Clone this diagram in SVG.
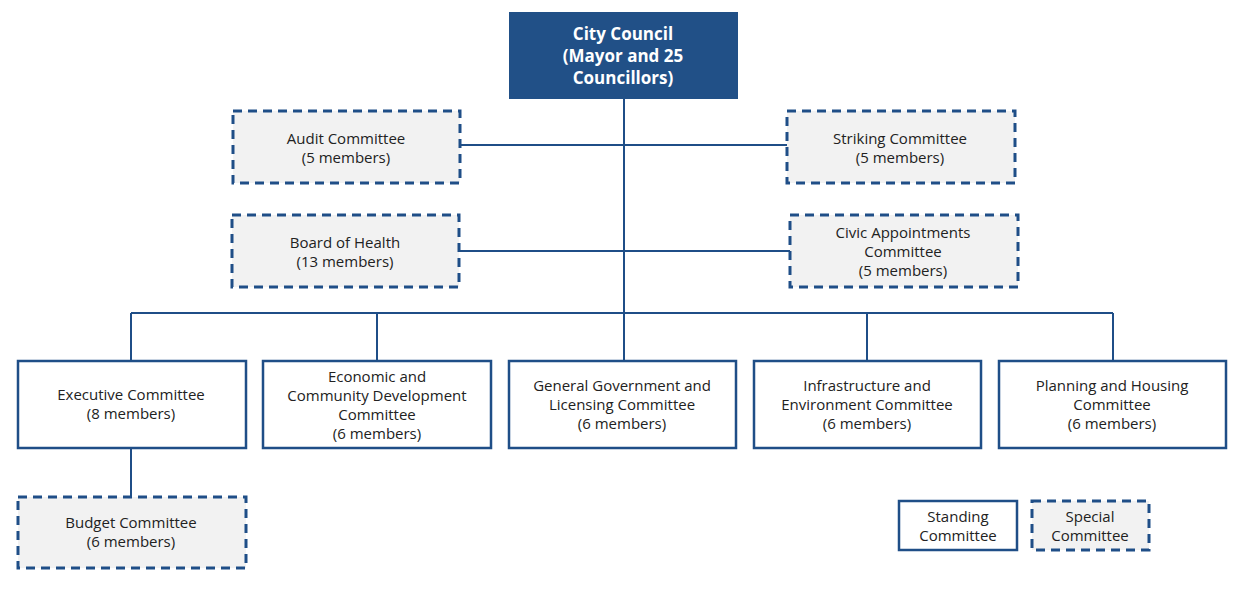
<svg xmlns="http://www.w3.org/2000/svg" width="1236" height="604" viewBox="0 0 1236 604">
<style>
.s{fill:#fff;stroke:#1f4e87;stroke-width:2.5}
.d{fill:#f2f2f2;stroke:#1f4e87;stroke-width:3;stroke-dasharray:9,6}
.t{font-family:"Open Sans","Liberation Sans",sans-serif;font-size:15px;fill:#222;text-anchor:middle}
.c{stroke:#1f4e87;stroke-width:2;fill:none}
</style>
<rect width="1236" height="604" fill="#fff"/>
<g id="connectors" class="c">
<path d="M624 99V360M460 145H787M459 251H790M131 313H1113M131 313V360M377 313V360M867 313V360M1113 313V360M131 448V497"/>
</g>
<g id="council"><rect x="509" y="12" width="229" height="87" fill="#215087"/>
<text class="t" style="font-weight:bold;font-size:17px;fill:#fff" x="623"><tspan x="623" y="40">City Council</tspan><tspan x="623" y="62">(Mayor and 25</tspan><tspan x="623" y="84">Councillors)</tspan></text></g>
<g id="audit"><rect class="d" x="233" y="111" width="227" height="72"/><text class="t"><tspan x="346" y="144">Audit Committee</tspan><tspan x="346" y="163">(5 members)</tspan></text></g>
<g id="striking"><rect class="d" x="787" y="111" width="228" height="72"/><text class="t"><tspan x="900" y="144">Striking Committee</tspan><tspan x="900" y="163">(5 members)</tspan></text></g>
<g id="health"><rect class="d" x="232" y="215" width="227" height="72"/><text class="t"><tspan x="345" y="248">Board of Health</tspan><tspan x="345" y="267">(13 members)</tspan></text></g>
<g id="civic"><rect class="d" x="790" y="215" width="228" height="72"/><text class="t"><tspan x="903" y="238">Civic Appointments</tspan><tspan x="903" y="257">Committee</tspan><tspan x="903" y="276">(5 members)</tspan></text></g>
<g id="exec"><rect class="s" x="18" y="361" width="228" height="87"/><text class="t"><tspan x="131" y="400">Executive Committee</tspan><tspan x="131" y="419">(8 members)</tspan></text></g>
<g id="econ"><rect class="s" x="263" y="361" width="228" height="87"/><text class="t"><tspan x="377" y="382">Economic and</tspan><tspan x="377" y="401">Community Development</tspan><tspan x="377" y="420">Committee</tspan><tspan x="377" y="439">(6 members)</tspan></text></g>
<g id="gov"><rect class="s" x="509" y="361" width="227" height="87"/><text class="t"><tspan x="622" y="391">General Government and</tspan><tspan x="622" y="410">Licensing Committee</tspan><tspan x="622" y="429">(6 members)</tspan></text></g>
<g id="infra"><rect class="s" x="754" y="361" width="227" height="87"/><text class="t"><tspan x="867" y="391">Infrastructure and</tspan><tspan x="867" y="410">Environment Committee</tspan><tspan x="867" y="429">(6 members)</tspan></text></g>
<g id="plan"><rect class="s" x="999" y="361" width="227" height="87"/><text class="t"><tspan x="1112" y="391">Planning and Housing</tspan><tspan x="1112" y="410">Committee</tspan><tspan x="1112" y="429">(6 members)</tspan></text></g>
<g id="budget"><rect class="d" x="18" y="497" width="228" height="71"/><text class="t"><tspan x="131" y="528">Budget Committee</tspan><tspan x="131" y="547">(6 members)</tspan></text></g>
<g id="legend-standing"><rect class="s" x="899" y="501" width="118" height="49"/><text class="t"><tspan x="958" y="522">Standing</tspan><tspan x="958" y="541">Committee</tspan></text></g>
<g id="legend-special"><rect class="d" x="1032" y="501" width="117" height="49"/><text class="t"><tspan x="1090" y="522">Special</tspan><tspan x="1090" y="541">Committee</tspan></text></g>
</svg>
